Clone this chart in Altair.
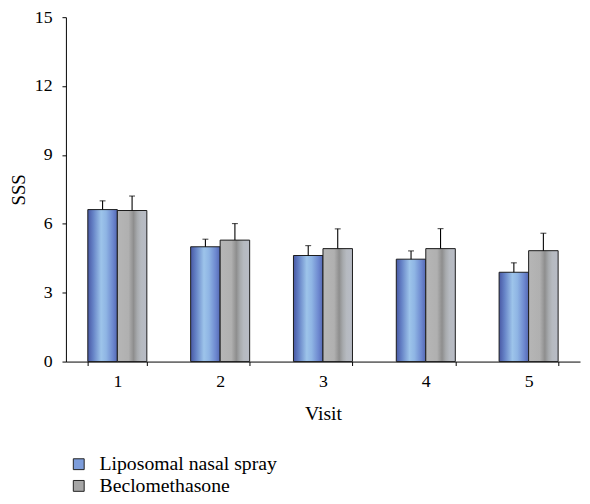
import altair as alt
import pandas as pd

visits = ["1", "2", "3", "4", "5"]
series = ["Liposomal nasal spray", "Beclomethasone"]
lipo = [6.62, 5.00, 4.62, 4.46, 3.89]
lipo_err = [0.38, 0.33, 0.43, 0.36, 0.41]
beclo = [6.58, 5.29, 4.92, 4.92, 4.83]
beclo_err = [0.63, 0.72, 0.86, 0.87, 0.76]
y_ticks = [0, 3, 6, 9, 12, 15]

rows = []
for i, v in enumerate(visits):
    rows.append({"Visit": v, "Series": series[0], "SSS": lipo[i], "Top": lipo[i] + lipo_err[i]})
    rows.append({"Visit": v, "Series": series[1], "SSS": beclo[i], "Top": beclo[i] + beclo_err[i]})
df = pd.DataFrame(rows)

FONT = "Liberation Serif"

blue_grad = alt.LinearGradient(
    gradient="linear", x1=0, x2=1, y1=0, y2=0,
    stops=[
        alt.GradientStop(offset=0.0, color="#4858a4"),
        alt.GradientStop(offset=0.18, color="#6582c6"),
        alt.GradientStop(offset=0.45, color="#9dc4ea"),
        alt.GradientStop(offset=0.62, color="#8fb5e4"),
        alt.GradientStop(offset=0.85, color="#6d88cf"),
        alt.GradientStop(offset=1.0, color="#5468b4"),
    ],
)
gray_grad = alt.LinearGradient(
    gradient="linear", x1=0, x2=1, y1=0, y2=0,
    stops=[
        alt.GradientStop(offset=0.0, color="#b6b6b6"),
        alt.GradientStop(offset=0.38, color="#b0b0b0"),
        alt.GradientStop(offset=0.55, color="#8e8e8e"),
        alt.GradientStop(offset=0.68, color="#a8abae"),
        alt.GradientStop(offset=0.8, color="#b6bac0"),
        alt.GradientStop(offset=1.0, color="#b8bcc6"),
    ],
)

x_enc = alt.X(
    "Visit:N",
    sort=visits,
    scale=alt.Scale(paddingInner=0.426, paddingOuter=0.213),
    axis=alt.Axis(
        title="Visit", labelAngle=0, tickBand="extent", tickSize=4,
        labelPadding=7, titlePadding=14, domainColor="black", tickColor="black",
        labelFont=FONT, titleFont=FONT, labelFontSize=18, titleFontSize=20,
        titleFontWeight="normal", labelColor="black", titleColor="black",
    ),
)
xoff = alt.XOffset("Series:N", sort=series, scale=alt.Scale(domain=series, paddingInner=0, paddingOuter=0))
y_enc = alt.Y(
    "SSS:Q",
    scale=alt.Scale(domain=[0, 15], nice=False),
    axis=alt.Axis(
        title="SSS", values=y_ticks, grid=False, tickSize=4, labelPadding=10,
        titlePadding=6, domainColor="black", tickColor="black",
        labelFont=FONT, titleFont=FONT, labelFontSize=18, titleFontSize=19,
        titleFontWeight="normal", labelColor="black", titleColor="black",
    ),
)

base = alt.Chart(df)

bars_a = base.transform_filter(alt.datum.Series == series[0]).mark_bar(
    fill=blue_grad, stroke="#1a1a1a", strokeWidth=1
).encode(x=x_enc, xOffset=xoff, y=y_enc)

bars_b = base.transform_filter(alt.datum.Series == series[1]).mark_bar(
    fill=gray_grad, stroke="#1a1a1a", strokeWidth=1
).encode(x=x_enc, xOffset=xoff, y=y_enc)

err = base.mark_rule(color="black", strokeWidth=1.1).encode(
    x=x_enc, xOffset=xoff, y="SSS:Q", y2="Top:Q"
)
caps = base.mark_tick(color="black", thickness=1.1, size=6).encode(
    x=x_enc, xOffset=xoff, y="Top:Q"
)

legend_layer = base.mark_square(opacity=0).encode(
    x=x_enc, xOffset=xoff, y="SSS:Q",
    fill=alt.Fill(
        "Series:N", sort=series,
        scale=alt.Scale(domain=series, range=["#7d9ddb", "#a6a6a6"]),
        legend=alt.Legend(
            title=None, orient="none", legendX=3, legendY=443,
            symbolType="square", symbolSize=121, symbolOpacity=1,
            symbolStrokeColor="#222222", symbolStrokeWidth=1,
            labelFont=FONT, labelFontSize=20, labelColor="black", labelLimit=0,
            labelOffset=11, rowPadding=2, padding=0,
        ),
    ),
)

chart = alt.layer(bars_a, bars_b, err, caps, legend_layer).properties(
    width=521, height=349,
    autosize=alt.AutoSizeParams(type="none"),
    padding={"left": 58.7, "top": 6, "right": 2, "bottom": 139},
).configure_view(stroke=None)

chart.save("out.html", embed_options={"renderer": "svg", "actions": False})
